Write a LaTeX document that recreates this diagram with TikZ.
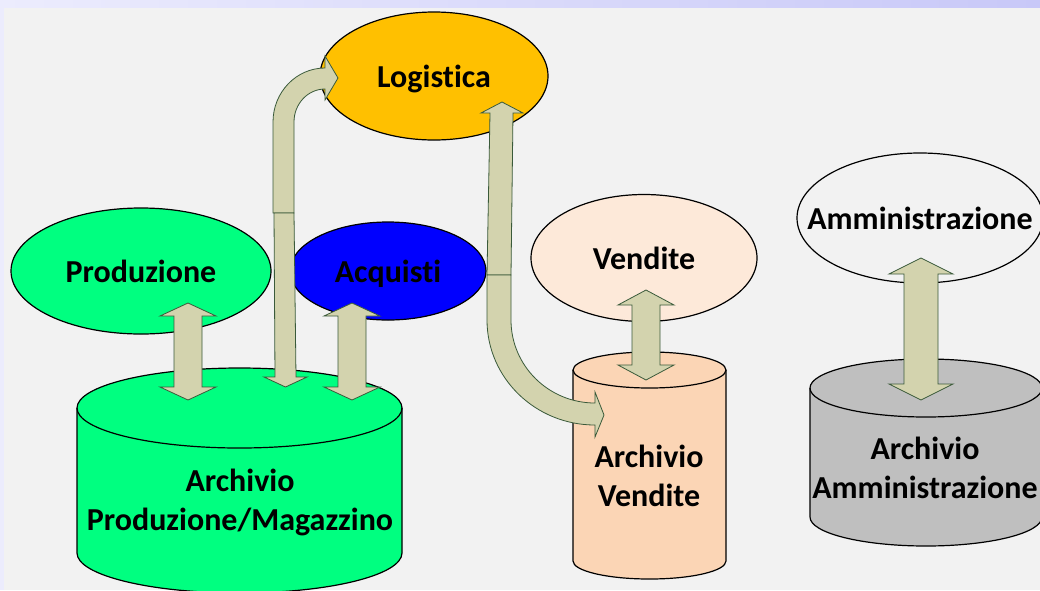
\documentclass[tikz,border=0pt]{standalone}
\usepackage{fontspec}
\setmainfont{Carlito}[Ligatures={NoCommon}]
\usetikzlibrary{shapes.geometric}

\definecolor{bandleft}{HTML}{ECECFD}
\definecolor{bandright}{HTML}{C8C8F8}
\definecolor{slide}{HTML}{F2F2F2}
\definecolor{prodgreen}{HTML}{00FF80}
\definecolor{acqblue}{HTML}{0000FF}
\definecolor{logorange}{HTML}{FFC000}
\definecolor{vendpale}{HTML}{FDE9D9}
\definecolor{vendpeach}{HTML}{FBD5B5}
\definecolor{ammgray}{HTML}{BFBFBF}
\definecolor{arrowfill}{HTML}{D3D3AE}
\definecolor{arrowline}{HTML}{3A5A3A}

% archive drum: centre x, top y, bottom y, x radius, y radius, fill
\newcommand{\archive}[6]{%
   \filldraw[fill=#6, line width=1.2pt] (#1-#4,#2) -- (#1-#4,#3)
      arc[start angle=180, end angle=0, x radius=#4, y radius=#5] -- (#1+#4,#2)
      arc[start angle=0, end angle=-180, x radius=#4, y radius=#5] -- cycle;
   \draw[line width=1.2pt] (#1-#4,#2) arc[start angle=180, end angle=0, x radius=#4, y radius=#5];
}
% vertical two-headed block arrow: x, top tip, bottom tip, half shaft, half head, head length
\newcommand{\dblarrow}[6]{%
   \filldraw[block] (#1-#4,#2+#6) -- (#1-#5,#2+#6) -- (#1,#2) -- (#1+#5,#2+#6) -- (#1+#4,#2+#6)
      -- (#1+#4,#3-#6) -- (#1+#5,#3-#6) -- (#1,#3) -- (#1-#5,#3-#6) -- (#1-#4,#3-#6) -- cycle;
}

\begin{document}
\begin{tikzpicture}[x=1pt,y=-1pt]
   \tikzstyle{every node}=[font=\fontsize{32}{39}\selectfont\bfseries, align=center]
   \tikzstyle{unit}=[draw, ellipse, line width=1.2pt, inner ysep=0pt, inner xsep=-45pt, text depth=0pt]
   \tikzstyle{block}=[fill=arrowfill, draw=arrowline, line width=0.8pt]

   \useasboundingbox (0,0) rectangle (1040,590);
   \clip (0,0) rectangle (1040,590);
   \shade[left color=bandleft, right color=bandright] (0,0) rectangle (1040,8);
   \fill[bandleft] (0,0) rectangle (4,590);
   \fill[slide] (4,8) rectangle (1040,590);

   % archives
   \archive{239.5}{408}{553}{162.5}{40}{prodgreen}
   \archive{649.5}{370}{561}{76.5}{18}{vendpeach}
   \archive{926}{388}{517}{116}{29}{ammgray}
   \node (archprod) at (240,502) {Archivio\\Produzione/Magazzino};
   \node (archvend) at (649,476) {Archivio\\Vendite};
   \node (archamm) at (925,468) {Archivio\\Amministrazione};

   % functions
   \node[unit, fill=prodgreen, minimum width=260pt, minimum height=126pt] (produzione) at (141,271) {Produzione};
   \node[unit, fill=acqblue, minimum width=196pt, minimum height=98pt] (acquisti) at (388,271) {Acquisti};
   \node[unit, fill=logorange, minimum width=228pt, minimum height=128pt] (logistica) at (434,76) {Logistica};
   \node[unit, fill=vendpale, minimum width=226pt, minimum height=127pt] (vendite) at (644,258) {Vendite};
   \node[unit, minimum width=246pt, minimum height=130pt] (amministrazione) at (920,218) {Amministrazione};

   % flows
   \dblarrow{188}{303}{400}{14}{28}{13}
   \dblarrow{352}{303}{400}{14}{28}{13}
   \dblarrow{646}{290}{380}{14}{28}{15}
   \dblarrow{921}{258}{400}{17}{32}{16}

   \filldraw[block] (273,213) -- (273,122) arc[start angle=180, end angle=270, x radius=52, y radius=54]
      -- (325,56) -- (338,78) -- (325,100) -- (325,89)
      arc[start angle=270, end angle=180, x radius=31, y radius=33] -- (294,213) -- cycle;
   \filldraw[block] (274,213) -- (275,377) -- (264,377) -- (285.5,387) -- (307,377) -- (296,377) -- (294,213) -- cycle;

   \filldraw[block] (490,113) -- (481,113) -- (502,102) -- (523,113) -- (513,113) -- (511,275) -- (487,275) -- cycle;
   \filldraw[block] (487,275) -- (487,320) arc[start angle=180, end angle=90, x radius=108, y radius=105]
      -- (595,437) -- (604,415) -- (595,392) -- (595,403)
      arc[start angle=90, end angle=180, x radius=84, y radius=83] -- (511,275) -- cycle;
\end{tikzpicture}
\end{document}
